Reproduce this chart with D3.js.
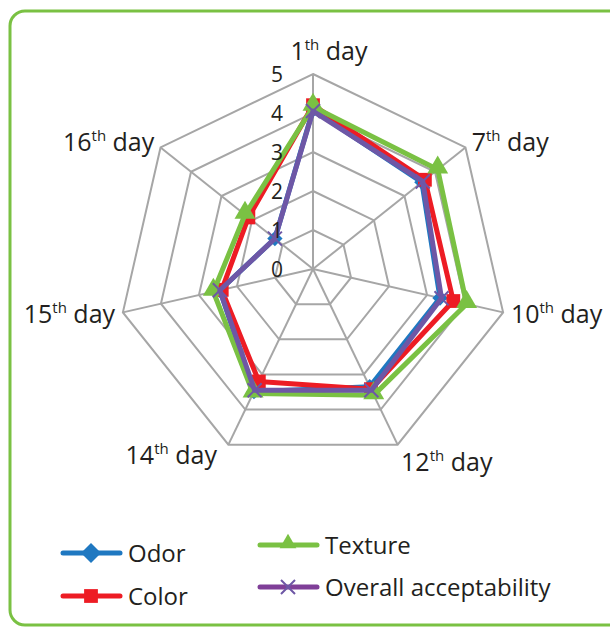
<!DOCTYPE html>
<html>
<head>
<meta charset="utf-8">
<script src="https://cdn.jsdelivr.net/npm/d3@7"></script>
<style>
  body { margin: 0; background: #fff; }
  svg { display: block; font-family: "Open Sans", "Noto Sans", sans-serif; }
</style>
</head>
<body>
<svg width="610" height="627"></svg>
<script>
// radar chart: sensory scores over storage days

const days = ["1", "7", "10", "12", "14", "15", "16"];
const ticks = [0, 1, 2, 3, 4, 5];

const odor    = [4.08, 3.57, 3.34, 3.35, 3.49, 2.45, 1.25];
const color   = [4.20, 3.67, 3.69, 3.42, 3.20, 2.40, 2.12];
const texture = [4.16, 4.09, 4.04, 3.59, 3.54, 2.62, 2.23];
const overall = [4.05, 3.60, 3.38, 3.45, 3.45, 2.45, 1.25];

const seriesNames = ["Odor", "Color", "Texture", "Overall acceptability"];

const svg = d3.select("svg");
const cx = 313, cy = 269, R = 195;

// frame
svg.append("rect")
  .attr("x", 10).attr("y", 11)
  .attr("width", 620).attr("height", 614)
  .attr("rx", 15)
  .attr("fill", "none")
  .attr("stroke", "#7ac143")
  .attr("stroke-width", 3);

const g = svg.append("g").attr("transform", `translate(${cx},${cy})`);

const r = d3.scaleLinear().domain([0, 5]).range([0, R]);
const angle = d3.scalePoint().domain(d3.range(days.length)).range([0, 2 * Math.PI * (days.length - 1) / days.length]);
const pt = (i, v) => [Math.sin(angle(i)) * r(v), -Math.cos(angle(i)) * r(v)];

// grid rings
ticks.slice(1).forEach(t => {
  g.append("polygon")
    .attr("points", days.map((d, i) => pt(i, t).join(",")).join(" "))
    .attr("fill", "none")
    .attr("stroke", "#a6a6a6")
    .attr("stroke-width", 2);
});

// spokes
days.forEach((d, i) => {
  const [x, y] = pt(i, 5);
  g.append("line")
    .attr("x1", 0).attr("y1", 0).attr("x2", x).attr("y2", y)
    .attr("stroke", "#a6a6a6")
    .attr("stroke-width", 2);
});

// axis labels
days.forEach((d, i) => {
  const a = angle(i);
  const s = Math.sin(a), c = Math.cos(a);
  const rr = R + 8;
  let x = s * rr, y = -c * rr;
  let anchor = "middle";
  if (s > 0.2) anchor = "start";
  if (s < -0.2) anchor = "end";
  let dy = 9;
  if (c > 0.9) { dy = -6; x += 16; }
  else if (c < -0.5) { dy = s > 0 ? 19 : 12; x -= s < 0 ? 8 : 0; }
  const t = g.append("text")
    .attr("x", x).attr("y", y + dy)
    .attr("text-anchor", anchor)
    .attr("font-size", "25px")
    .attr("fill", "#231f20");
  t.append("tspan").text(d);
  t.append("tspan").attr("font-size", "15px").attr("dy", -10).text("th");
  t.append("tspan").attr("dy", 10).text(" day");
});

const series = [
  { name: seriesNames[0], values: odor,    color: "#1f78c1", marker: "diamond" },
  { name: seriesNames[1], values: color,   color: "#ed1c24", marker: "square" },
  { name: seriesNames[2], values: texture, color: "#7ac143", marker: "triangle" },
  { name: seriesNames[3], values: overall, color: "#6e57a6", marker: "cross" }
];

const symbolFor = {
  diamond: d3.symbol().type(d3.symbolDiamond2).size(150),
  square: d3.symbol().type(d3.symbolSquare).size(190),
  triangle: d3.symbol().type(d3.symbolTriangle).size(190),
  cross: d3.symbol().type(d3.symbolX).size(130)
};

function drawMarker(sel, s, x, y, scale) {
  const k = scale || 1;
  const p = sel.append("path")
    .attr("d", symbolFor[s.marker]())
    .attr("transform", `translate(${x},${y}) scale(${k})` + (s.marker === "triangle" ? " translate(0,-2)" : ""));
  if (s.marker === "cross") {
    p.attr("fill", "none").attr("stroke", s.color).attr("stroke-width", 2 / k);
  } else {
    p.attr("fill", s.color);
  }
}

const line = d3.line().curve(d3.curveLinearClosed);

series.forEach(s => {
  const pts = s.values.map((v, i) => pt(i, v));
  g.append("path")
    .attr("d", line(pts))
    .attr("fill", "none")
    .attr("stroke", s.color)
    .attr("stroke-width", 5)
    .attr("stroke-linejoin", "round");
  pts.forEach(p => drawMarker(g, s, p[0], p[1]));
});

// tick labels (on top of the series, as in the original)
ticks.forEach(t => {
  g.append("text")
    .attr("x", -30).attr("y", -r(t))
    .attr("dy", "0.36em")
    .attr("text-anchor", "end")
    .attr("font-size", "21px")
    .attr("fill", "#231f20")
    .text(t);
});

// legend
const legendPos = [[63, 553], [63, 596], [260, 545], [260, 587]];
const legendColors = ["#1f78c1", "#ed1c24", "#7ac143", "#7f3f98"];
const legendScale = { diamond: 1.3, square: 1.0, triangle: 0.8, cross: 1.0 };
series.forEach((s, i) => {
  const [lx, ly] = legendPos[i];
  const lg = svg.append("g").attr("transform", `translate(${lx},${ly})`);
  lg.append("line")
    .attr("x1", 0).attr("x2", 57).attr("y1", 0).attr("y2", 0)
    .attr("stroke", legendColors[i])
    .attr("stroke-width", 5)
    .attr("stroke-linecap", "round");
  drawMarker(lg, { marker: s.marker, color: s.marker === "cross" ? "#6e57a6" : legendColors[i] }, 28, 0, legendScale[s.marker]);
  lg.append("text")
    .attr("x", 65).attr("y", 9)
    .attr("font-size", "24px")
    .attr("fill", "#231f20")
    .text(s.name);
});
</script>
</body>
</html>
